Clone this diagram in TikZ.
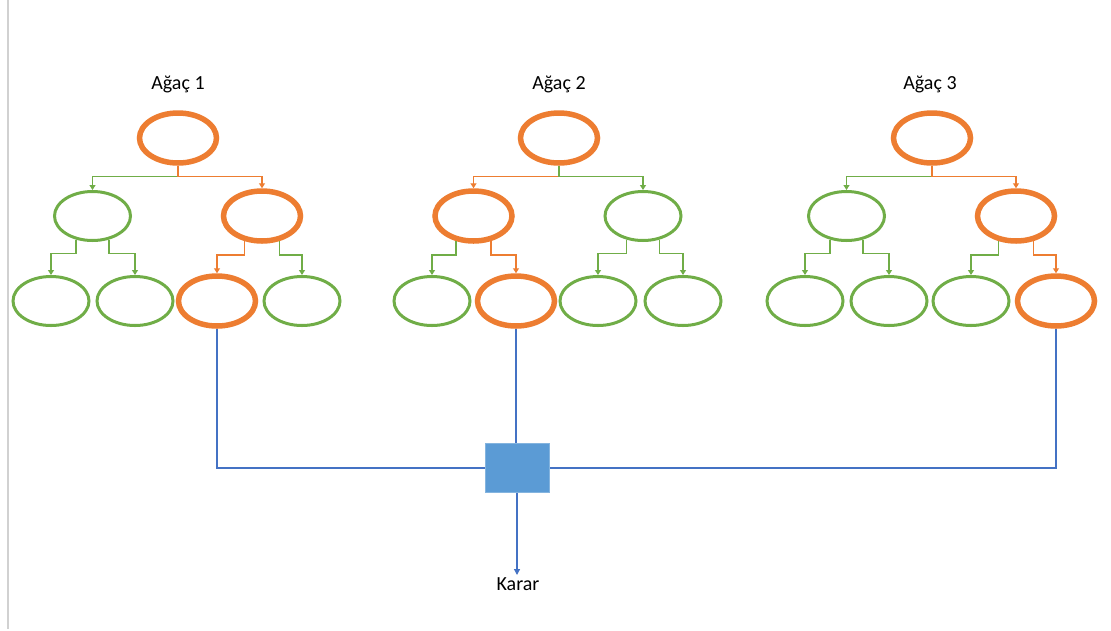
\documentclass[tikz,border=0pt]{standalone}
\usepackage{fontspec}
\setmainfont{Carlito}
\usetikzlibrary{shapes.geometric,arrows.meta}
\definecolor{orng}{HTML}{ED7D31}
\definecolor{grn}{HTML}{70AD47}
\definecolor{blu}{HTML}{4472C4}
\definecolor{boxblue}{HTML}{5B9BD5}

% root -> child elbow and parent -> leaf elbow
\newcommand\rootlink[3]{\draw[conn,#3] (#1.south) -- ++(0,10.5) -| (#2.north);}
\newcommand\leaflink[4]{\draw[conn,#4] (#1.#3) -- ++(0,14) -| (#2.north);}

\begin{document}
\begin{tikzpicture}[x=1pt,y=-1pt,
  gnode/.style={ellipse,draw=grn,line width=3pt,minimum width=76pt,minimum height=49pt,inner sep=0pt},
  onode/.style={ellipse,draw=orng,line width=5.5pt,minimum width=77pt,minimum height=50pt,inner sep=0pt},
  conn/.style={line width=1.3pt,-{Triangle[width=6pt,length=5pt]}},
  vote/.style={draw=blu,line width=1.3pt},
  title/.style={anchor=base,inner sep=0pt,font=\fontsize{20pt}{24pt}\selectfont},
  combiner/.style={rectangle,fill=boxblue,draw=boxblue!75!white,line width=1pt,minimum width=64pt,minimum height=49pt,inner sep=0pt}]
\useasboundingbox (0,0) rectangle (1111,630);

% page margin rule
\draw[black!18,line width=1.3pt] (8,0) coordinate (m1) -- (8,629) coordinate (m2);

% ---------------- tree 1
\node[title] (lab1) at (178,89) {Ağaç 1};
\node[onode] (a0) at (178,138) {};
\node[gnode] (a1) at (92.5,216) {};
\node[onode] (a2) at (262,216) {};
\node[gnode] (a3) at (51,301) {};
\node[gnode] (a4) at (135,301) {};
\node[onode] (a5) at (217,301) {};
\node[gnode] (a6) at (302,301) {};
\rootlink{a0}{a1}{grn}
\rootlink{a0}{a2}{orng}
\leaflink{a1}{a3}{-125}{grn}
\leaflink{a1}{a4}{-55}{grn}
\leaflink{a2}{a5}{-125}{orng}
\leaflink{a2}{a6}{-55}{grn}

% ---------------- tree 2
\node[title] (lab2) at (559,89) {Ağaç 2};
\node[onode] (b0) at (559,138) {};
\node[onode] (b1) at (473.5,216) {};
\node[gnode] (b2) at (643,216) {};
\node[gnode] (b3) at (432,301) {};
\node[onode] (b4) at (516,301) {};
\node[gnode] (b5) at (598,301) {};
\node[gnode] (b6) at (683,301) {};
\rootlink{b0}{b1}{orng}
\rootlink{b0}{b2}{grn}
\leaflink{b1}{b3}{-125}{grn}
\leaflink{b1}{b4}{-55}{orng}
\leaflink{b2}{b5}{-125}{grn}
\leaflink{b2}{b6}{-55}{grn}

% ---------------- tree 3
\node[title] (lab3) at (930,89) {Ağaç 3};
\node[onode] (c0) at (932,138) {};
\node[gnode] (c1) at (846.5,216) {};
\node[onode] (c2) at (1016,216) {};
\node[gnode] (c3) at (805,301) {};
\node[gnode] (c4) at (889,301) {};
\node[gnode] (c5) at (971,301) {};
\node[onode] (c6) at (1056,301) {};
\rootlink{c0}{c1}{grn}
\rootlink{c0}{c2}{orng}
\leaflink{c1}{c3}{-125}{grn}
\leaflink{c1}{c4}{-55}{grn}
\leaflink{c2}{c5}{-125}{grn}
\leaflink{c2}{c6}{-55}{orng}

% ---------------- combining the votes
\node[title] (karar) at (518,590) {Karar};
\coordinate (k) at (517,575);
\draw[vote] (a5.south) |- (517,468) coordinate (mid);
\draw[vote] (c6.south) |- (mid);
\draw[vote] (b4.south) -- (b4.south |- mid);
\draw[vote,-{Triangle[width=6pt,length=6pt]}] (mid) -- (k);
\node[combiner] (box) at (mid) {};
\end{tikzpicture}
\end{document}
